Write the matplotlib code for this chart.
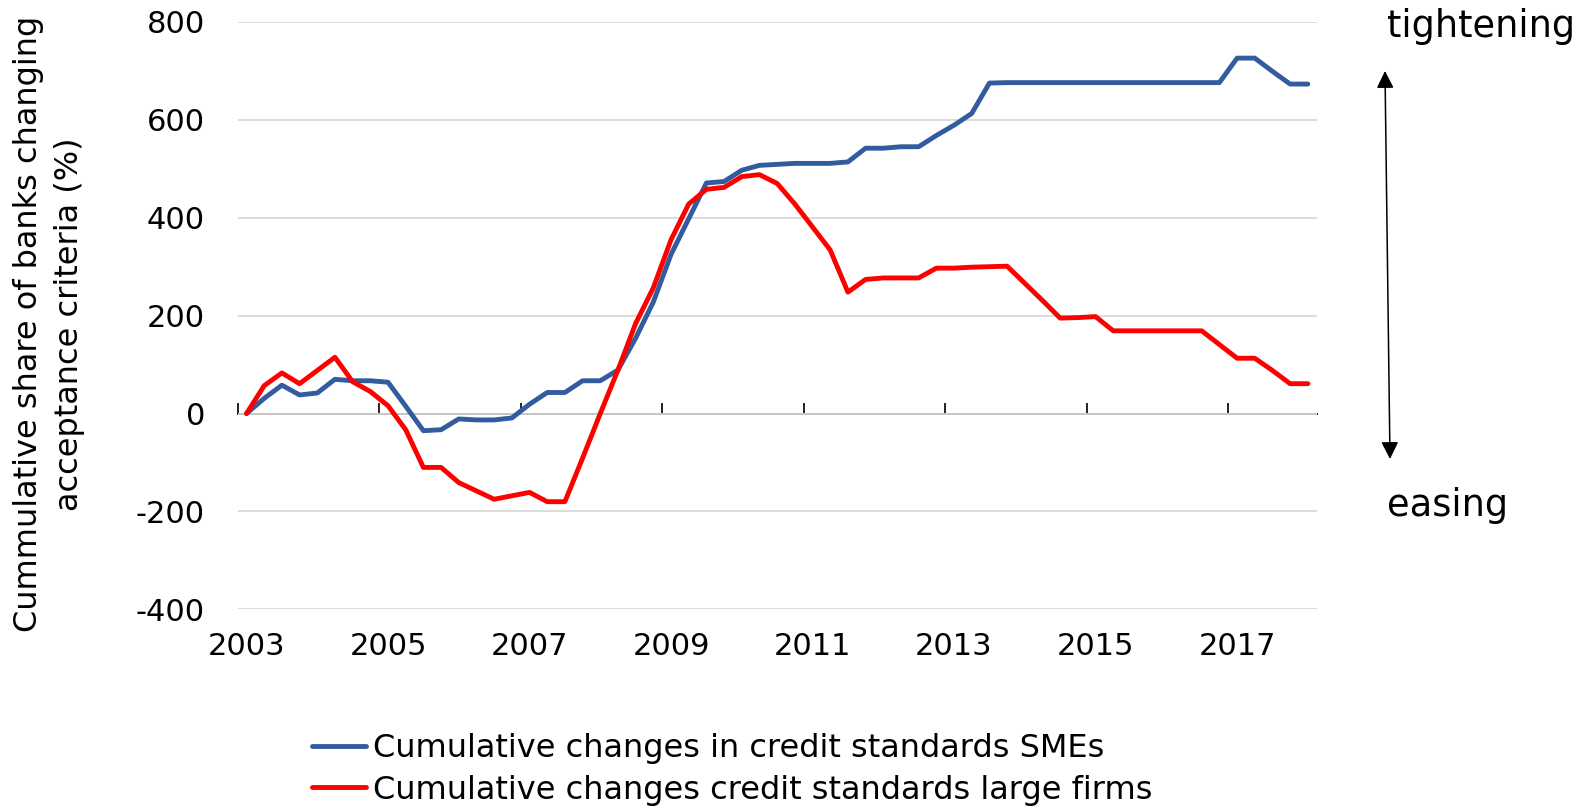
import matplotlib
matplotlib.use("Agg")
import matplotlib.pyplot as plt
import numpy as np

plt.rcParams["axes.unicode_minus"] = False

# quarterly data, 2003Q1 .. 2018Q1
quarters = [f"{y}Q{q}" for y in range(2003, 2019) for q in range(1, 5)][:61]

smes = [0, 31, 58, 38, 42, 70, 67, 67, 64, 15,
        -35, -33, -11, -13, -13, -9, 19, 43, 43, 67,
        67, 89, 154, 228, 325, 398, 471, 474, 497, 507,
        509, 511, 511, 511, 514, 542, 542, 545, 545, 568,
        589, 613, 675, 676, 676, 676, 676, 676, 676, 676,
        676, 676, 676, 676, 676, 676, 726, 726, 699, 673,
        673]

large = [0, 57, 83, 61, 88, 115, 65, 45, 16, -33,
         -110, -110, -141, -158, -175, -168, -161, -180, -180, -91,
         0, 89, 184, 257, 355, 428, 458, 462, 484, 488,
         470, 428, 381, 334, 248, 274, 277, 277, 277, 297,
         297, 299, 300, 301, 266, 231, 195, 196, 198, 169,
         169, 169, 169, 169, 169, 141, 113, 113, 88, 61,
         61]

year_labels = ["2003", "2005", "2007", "2009", "2011", "2013", "2015", "2017"]
y_ticks = [-400, -200, 0, 200, 400, 600, 800]

legend_labels = ["Cumulative changes in credit standards SMEs",
                 "Cumulative changes credit standards large firms"]

FS = 22
BLUE = "#335C9E"
RED = "#FF0000"

fig = plt.figure(figsize=(15.95, 8.08), dpi=100)
ax = fig.add_axes([0.149, 0.2458, 0.8255 - 0.149, 0.9729 - 0.2458])

x = np.arange(len(quarters))
l1, = ax.plot(x, smes, color=BLUE, lw=3.5, solid_joinstyle="round", solid_capstyle="round", zorder=3)
l2, = ax.plot(x, large, color=RED, lw=3.5, solid_joinstyle="round", solid_capstyle="round", zorder=4)

ax.set_xlim(-0.5, len(quarters) - 0.5)
ax.set_ylim(-400, 800)
ax.set_yticks(y_ticks)
ax.yaxis.grid(True, color="#d9d9d9", lw=1.3)
ax.set_axisbelow(True)
for s in ax.spines.values():
    s.set_visible(False)

# year labels at category centres
ax.set_xticks([quarters.index(y + "Q1") for y in year_labels], year_labels)
ax.tick_params(axis="x", length=0, pad=16, labelsize=FS)
ax.tick_params(axis="y", length=0, pad=23.5, labelsize=FS)

# horizontal axis line at zero with tick marks between categories
zero_pos = (0 - (-400)) / (800 - (-400))
sec = ax.secondary_xaxis(zero_pos)
sec.set_xticks(np.arange(-0.5, len(quarters), 8))
sec.tick_params(direction="in", length=8, width=1.2, labelbottom=False, labeltop=False, color="black")
sec.spines["bottom"].set_color("black")
sec.spines["bottom"].set_linewidth(1.3)

fig.text(0.031, 0.599, "Cummulative share of banks changing\nacceptance criteria (%)",
         rotation=90, ha="center", va="center", fontsize=23, multialignment="center",
         linespacing=1.42)

fig.text(1387 / 1595, 1 - 37 / 808, "tightening", fontsize=26.5, ha="left", va="baseline")
fig.text(1387 / 1595, 1 - 516 / 808, "easing", fontsize=26.5, ha="left", va="baseline")
fig.add_artist(matplotlib.patches.FancyArrowPatch(
    (1385 / 1595, 1 - 71 / 808), (1390 / 1595, 1 - 459 / 808),
    transform=fig.transFigure, arrowstyle="<|-|>", mutation_scale=26,
    color="black", lw=1.1, shrinkA=0, shrinkB=0))

fig.legend([l1, l2], legend_labels, loc="center left",
           bbox_to_anchor=(312 / 1595, 1 - 769.5 / 808), frameon=False,
           fontsize=23, handlelength=1.7, handletextpad=0.22,
           labelspacing=0.32, borderpad=0, borderaxespad=0)

fig.savefig("out.png", dpi=100)
